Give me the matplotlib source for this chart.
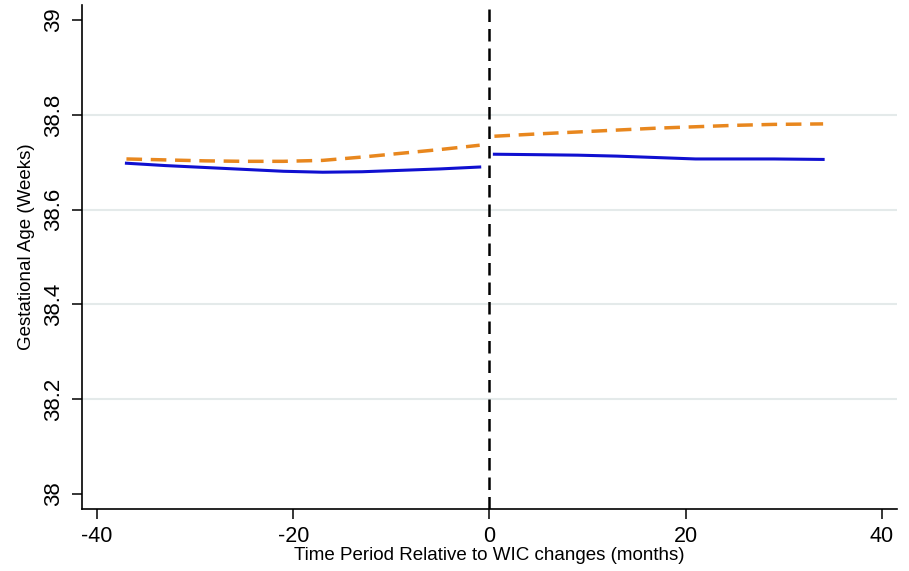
import matplotlib
matplotlib.use("Agg")
from matplotlib import pyplot as plt
import numpy as np

plt.rcParams['font.family'] = ['Liberation Sans', 'DejaVu Sans']
plt.rcParams['axes.unicode_minus'] = False

# months relative to the WIC change, before and after
x_pre = [-37, -33, -29, -25, -21, -17, -13, -9, -5, -1]
x_post = [0.5, 5, 9, 13, 17, 21, 25, 29, 34]

# control (blue, solid)
blue_pre = [38.698, 38.693, 38.689, 38.685, 38.681, 38.679, 38.680, 38.683, 38.686, 38.690]
blue_post = [38.717, 38.716, 38.715, 38.713, 38.710, 38.707, 38.707, 38.707, 38.706]

# treated (orange, dashed)
orange_pre = [38.707, 38.705, 38.703, 38.702, 38.702, 38.704, 38.711, 38.719, 38.727, 38.736]
orange_post = [38.755, 38.760, 38.764, 38.768, 38.772, 38.775, 38.778, 38.780, 38.781]

yticks = [38, 38.2, 38.4, 38.6, 38.8, 39]
ytick_labels = ['38', '38.2', '38.4', '38.6', '38.8', '39']
xticks = [-40, -20, 0, 20, 40]

fig = plt.figure(figsize=(9.09, 5.71), dpi=100)
ax = fig.add_axes([0.0902, 0.1086, 0.8966, 0.8826])

for g in [38.2, 38.4, 38.6, 38.8]:
    ax.axhline(g, color='#e4eaea', lw=1.5, zorder=0)

blue = '#1010d0'
orange = '#e8871e'
ax.plot(x_pre, blue_pre, color=blue, lw=2.2)
ax.plot(x_post, blue_post, color=blue, lw=2.2)
ax.plot(x_pre, orange_pre, color=orange, lw=2.5, dashes=(4.5, 2.5))
ax.plot(x_post, orange_post, color=orange, lw=2.5, dashes=(4.5, 2.5))
ax.axvline(0, color='black', lw=1.8, dashes=(5, 2.8))

ax.set_xlim(-41.53, 41.53)
ax.set_ylim(37.968, 39.032)
ax.set_xticks(xticks)
ax.set_yticks(yticks)
ax.set_yticklabels(ytick_labels, rotation=90, va='center')

for s in ['top', 'right']:
    ax.spines[s].set_visible(False)
for s in ['left', 'bottom']:
    ax.spines[s].set_linewidth(1.2)

ax.tick_params(axis='both', direction='out', length=7, width=1.1, pad=5)
ax.tick_params(axis='x', labelsize=15.5)
ax.tick_params(axis='y', labelsize=16, pad=6)
ax.set_xlabel('Time Period Relative to WIC changes (months)', fontsize=13.5, labelpad=0)
ax.set_ylabel('Gestational Age (Weeks)', fontsize=13.5)
ax.yaxis.set_label_coords(-0.058, 0.52)

fig.savefig('out.png', dpi=100)
